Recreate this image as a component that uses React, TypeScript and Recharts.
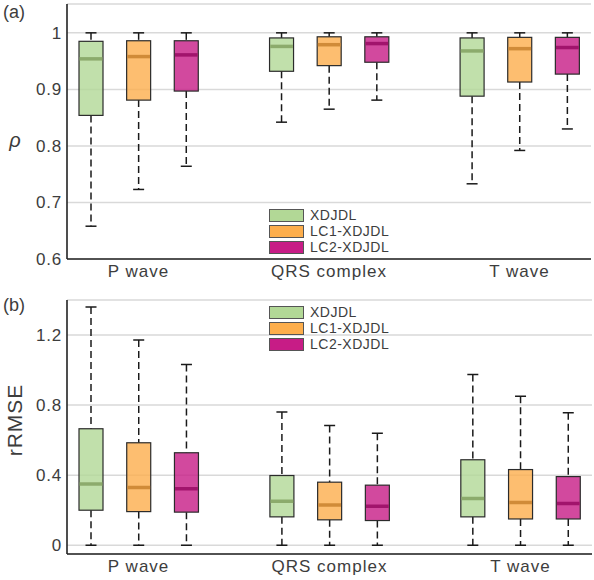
import React from 'react';
import { ComposedChart, Bar, XAxis, YAxis, CartesianGrid } from 'recharts';

const groups = ['P wave', 'QRS complex', 'T wave'];
const methods = ['XDJDL', 'LC1-XDJDL', 'LC2-XDJDL'];

// rho: one row per method, columns are P, QRS, T
const rhoMin = [[0.658, 0.842, 0.733], [0.723, 0.865, 0.792], [0.764, 0.881, 0.83]];
const rhoQ1 = [[0.854, 0.932, 0.888], [0.881, 0.942, 0.913], [0.897, 0.948, 0.927]];
const rhoMedian = [[0.954, 0.976, 0.968], [0.958, 0.979, 0.972], [0.961, 0.981, 0.974]];
const rhoQ3 = [[0.985, 0.991, 0.991], [0.986, 0.993, 0.992], [0.986, 0.993, 0.992]];
const rhoMax = [[1, 1, 1], [1, 1, 1], [1, 1, 1]];
const rhoTicks = [0.6, 0.7, 0.8, 0.9, 1];

// rRMSE: one row per method, columns are P, QRS, T
const rrmseMin = [[0, 0, 0], [0, 0, 0], [0, 0, 0]];
const rrmseQ1 = [[0.2, 0.162, 0.162], [0.192, 0.145, 0.15], [0.189, 0.141, 0.15]];
const rrmseMedian = [[0.349, 0.251, 0.267], [0.33, 0.23, 0.244], [0.322, 0.223, 0.238]];
const rrmseQ3 = [[0.665, 0.398, 0.488], [0.585, 0.36, 0.432], [0.528, 0.343, 0.392]];
const rrmseMax = [[1.36, 0.76, 0.975], [1.171, 0.684, 0.85], [1.032, 0.64, 0.756]];
const rrmseTicks = [0, 0.4, 0.8, 1.2];

const colors = ['#b2d896', '#fdae4c', '#c71c86'];
const medianColors = ['#8cab6c', '#d08b38', '#a1146c'];
const FONT = '"Liberation Sans", Arial, sans-serif';
const TEXT = '#3d3d3d';

function buildRows(mins, q1s, meds, q3s, maxs) {
  const rows: any[] = [];
  groups.forEach((g, gi) => {
    if (gi > 0) rows.push({ slot: 'gap' + gi, gap: true, label: '' });
    methods.forEach((m, mi) => {
      rows.push({
        slot: g + '|' + m,
        label: mi === 1 ? g : '',
        series: mi,
        min: mins[mi][gi],
        q1: q1s[mi][gi],
        med: meds[mi][gi],
        q3: q3s[mi][gi],
        max: maxs[mi][gi],
      });
    });
  });
  return rows;
}

function BoxShape(props: any) {
  const { x, y, width, height, payload } = props;
  if (!payload || payload.gap) return null;
  const top = Math.min(y, y + height);
  const bottom = Math.max(y, y + height);
  const span = payload.max - payload.min;
  const toY = (v: number) => bottom - ((v - payload.min) / span) * (bottom - top);
  const cx = x + width / 2;
  const s = payload.series;
  const yMax = toY(payload.max);
  const yQ3 = toY(payload.q3);
  const yQ1 = toY(payload.q1);
  const yMin = toY(payload.min);
  const yMed = toY(payload.med);
  return (
    <g>
      <line x1={cx} x2={cx} y1={yMax} y2={yQ3} stroke='#1a1a1a' strokeWidth={1.5} strokeDasharray='7 4' />
      <line x1={cx} x2={cx} y1={yQ1} y2={yMin} stroke='#1a1a1a' strokeWidth={1.5} strokeDasharray='7 4' />
      <line x1={cx - 5.5} x2={cx + 5.5} y1={yMax} y2={yMax} stroke='#1a1a1a' strokeWidth={1.5} />
      <line x1={cx - 5.5} x2={cx + 5.5} y1={yMin} y2={yMin} stroke='#1a1a1a' strokeWidth={1.5} />
      <rect x={x} y={yQ3} width={width} height={yQ1 - yQ3} fill={colors[s]} fillOpacity={0.8} stroke='#2b2b2b' strokeWidth={1.2} />
      <line x1={x + 0.6} x2={x + width - 0.6} y1={yMed} y2={yMed} stroke={medianColors[s]} strokeWidth={3.5} />
    </g>
  );
}

function Legend({ left, top }: { left: number; top: number }) {
  return (
    <div style={{ position: 'absolute', left, top, fontFamily: FONT, fontSize: 14, color: TEXT, letterSpacing: 0.5 }}>
      {methods.map((m, i) => (
        <div key={m} style={{ display: 'flex', alignItems: 'center', height: 16 }}>
          <div style={{ width: 33, height: 11, background: colors[i], border: '1px solid #555', marginRight: 6 }} />
          <span style={{ lineHeight: '16px' }}>{m}</span>
        </div>
      ))}
    </div>
  );
}

function BoxPanel({ rows, domain, ticks, height, top, right, yLabel, italic, labelDy, legendTop, letter }) {
  const labels: Record<string, string> = {};
  rows.forEach((r) => (labels[r.slot] = r.label));
  const tickStyle = { fontSize: 17, fill: TEXT, fontFamily: FONT, letterSpacing: 0.8 };
  return (
    <div style={{ position: 'relative', width: 594, height }}>
      <ComposedChart width={594} height={height} data={rows} margin={{ top, right, left: 0, bottom: 0 }} barCategoryGap={0}>
        <CartesianGrid vertical={false} stroke='#d9d9d9' strokeWidth={1.5} />
        <XAxis
          dataKey='slot'
          interval={0}
          height={26}
          tickLine={false}
          tickSize={0}
          tickMargin={6}
          axisLine={{ stroke: '#222', strokeWidth: 1.6 }}
          tick={{ ...tickStyle, letterSpacing: 1 }}
          tickFormatter={(v) => labels[v] || ''}
        />
        <XAxis xAxisId='top' dataKey='slot' orientation='top' height={0} tick={false} tickLine={false} axisLine={{ stroke: '#222', strokeWidth: 1.6 }} />
        <YAxis
          type='number'
          domain={domain}
          ticks={ticks}
          width={67}
          allowDataOverflow
          tickLine={false}
          tickSize={0}
          tickMargin={5}
          axisLine={{ stroke: '#222', strokeWidth: 1.6 }}
          tick={tickStyle}
          label={{
            value: yLabel,
            content: (p: any) => {
              const vb = p.viewBox || { x: 0, y: top, height: 255 };
              const cy = vb.y + vb.height / 2 + labelDy;
              return italic ? (
                <text x={15} y={cy} textAnchor='middle' fontFamily={FONT} fontStyle='italic' fontSize={20} fill={TEXT}>
                  {yLabel}
                </text>
              ) : (
                <text x={22} y={cy} textAnchor='middle' transform={`rotate(-90, 22, ${cy})`} fontFamily={FONT} fontSize={21} letterSpacing={1} fill={TEXT}>
                  {yLabel}
                </text>
              );
            },
          }}
        />
        <YAxis yAxisId='right' orientation='right' type='number' domain={domain} width={0} tick={false} tickLine={false} axisLine={{ stroke: '#222', strokeWidth: 1.6 }} />
        <Bar
          dataKey={(d: any) => (d.gap ? null : [d.min, d.max])}
          barSize={24}
          shape={<BoxShape />}
          isAnimationActive={false}
        />
      </ComposedChart>
      <Legend left={269} top={legendTop} />
      <div style={{ position: 'absolute', left: 3, top: letter === '(a)' ? 2 : 10, fontFamily: FONT, fontSize: 18, color: TEXT }}>{letter}</div>
    </div>
  );
}

export default function App() {
  const rhoRows = buildRows(rhoMin, rhoQ1, rhoMedian, rhoQ3, rhoMax);
  const rrmseRows = buildRows(rrmseMin, rrmseQ1, rrmseMedian, rrmseQ3, rrmseMax);
  return (
    <div style={{ position: 'absolute', left: 0, top: 0, width: 594, height: 580, background: '#fff' }}>
      <BoxPanel rows={rhoRows} domain={[0.6, 1.051]} ticks={rhoTicks} height={285} top={4} right={3} yLabel='ρ' italic labelDy={15} legendTop={207} letter='(a)' />
      <BoxPanel rows={rrmseRows} domain={[-0.05, 1.4]} ticks={rrmseTicks} height={295} top={15} right={2} yLabel='rRMSE' italic={false} labelDy={-7} legendTop={19} letter='(b)' />
    </div>
  );
}
